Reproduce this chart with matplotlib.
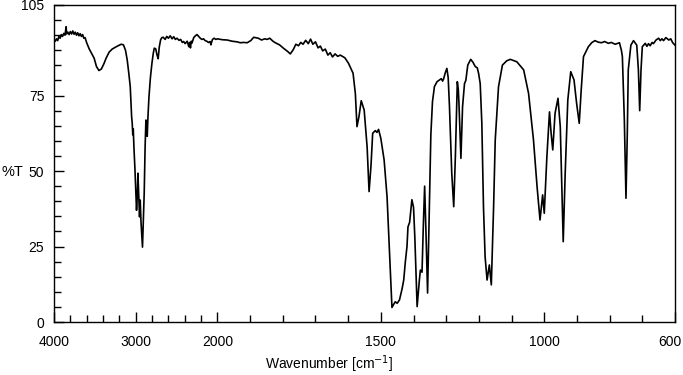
import numpy as np
import matplotlib
matplotlib.use('Agg')
import matplotlib.pyplot as plt
from matplotlib.ticker import FixedLocator, NullFormatter
from matplotlib.transforms import ScaledTranslation

plt.rcParams['font.family'] = ['Liberation Sans', 'DejaVu Sans']

# spectrum (wavenumber in cm-1, transmittance in %)
wavenumber = [
    4000, 3985, 3970, 3955, 3940, 3925, 3910, 3895, 3880, 3865, 3852, 3845, 3830, 3815,
    3800, 3785, 3770, 3755, 3740, 3725, 3710, 3695, 3680, 3665, 3650, 3635, 3620, 3600,
    3570, 3540, 3509, 3480, 3450, 3420, 3390, 3362, 3325, 3288, 3230, 3178, 3150, 3125,
    3104, 3085, 3067, 3050, 3043, 3036, 3030, 3022, 3010, 2990, 2980, 2973, 2963, 2953,
    2945, 2935, 2917, 2905, 2896, 2885, 2875, 2868, 2859, 2850, 2838, 2820, 2801, 2785,
    2773, 2755, 2740, 2725, 2712, 2695, 2680, 2663, 2640, 2620, 2600, 2577, 2555, 2535,
    2515, 2495, 2470, 2450, 2430, 2413, 2395, 2370, 2350, 2340, 2330, 2320, 2311, 2290,
    2270, 2250, 2230, 2210, 2190, 2170, 2150, 2130, 2110, 2090, 2080, 2070, 2060, 2040,
    2020, 2000, 1985, 1970, 1955, 1940, 1930, 1920, 1909, 1898, 1889, 1875, 1865, 1855,
    1848, 1840, 1830, 1823, 1810, 1797, 1785, 1777, 1768, 1760, 1752, 1745, 1738, 1730,
    1722, 1715, 1708, 1700, 1692, 1685, 1678, 1670, 1662, 1655, 1648, 1640, 1632, 1624,
    1610, 1599, 1585, 1578, 1573, 1567, 1560, 1551, 1542, 1536, 1530, 1525, 1517, 1512,
    1507, 1500, 1490, 1481, 1473, 1466, 1461, 1456, 1450, 1443, 1435, 1430, 1425, 1420,
    1417, 1412, 1405, 1400, 1396, 1389, 1382, 1379, 1374, 1370, 1366, 1362, 1357, 1352,
    1347, 1342, 1336, 1328, 1320, 1315, 1311, 1308, 1303, 1298, 1294, 1290, 1283, 1277,
    1272, 1268, 1266, 1263, 1261, 1255, 1250, 1244, 1240, 1234, 1225, 1218, 1211, 1205,
    1201, 1196, 1191, 1186, 1181, 1175, 1168, 1162, 1155, 1150, 1140, 1128, 1115, 1104,
    1084, 1063, 1048, 1033, 1022, 1013, 1005, 1000, 992, 984, 979, 974, 967, 958,
    951, 946, 942, 936, 928, 919, 909, 901, 893, 887, 880, 865, 855, 845,
    835, 825, 815, 804, 795, 783, 770, 764, 761, 755, 750, 746, 743, 735,
    727, 717, 712, 708, 704, 700, 691, 686, 681, 676, 670, 666, 658, 650,
    645, 640, 635, 628, 619, 613, 607, 600,
]
transmittance = [
    93.4, 93.0, 93.8, 93.2, 94.6, 94.0, 95.2, 94.6, 95.6, 95.0, 97.8, 95.4, 96.0, 95.2,
    96.2, 95.4, 96.4, 95.3, 96.0, 95.0, 95.8, 94.8, 95.5, 94.6, 95.2, 94.0, 94.2, 92.5,
    90.5, 89.0, 87.4, 84.6, 83.3, 83.8, 85.5, 87.4, 89.4, 90.4, 91.3, 92.0, 91.8, 90.0,
    86.8, 82.5, 78.0, 68.0, 66.0, 62.0, 64.0, 58.0, 51.0, 37.0, 42.0, 49.3, 42.0, 34.8,
    40.4, 33.0, 24.8, 35.0, 42.7, 58.0, 66.9, 65.0, 61.5, 68.0, 74.5, 81.0, 85.8, 89.0,
    90.7, 90.5, 88.5, 87.2, 91.0, 93.5, 94.2, 94.3, 93.6, 94.6, 94.0, 94.8, 93.8, 94.5,
    93.6, 94.0, 93.3, 93.6, 92.6, 92.9, 92.2, 93.0, 91.2, 92.6, 90.8, 93.0, 92.4, 94.2,
    94.8, 95.2, 94.6, 94.0, 93.6, 93.8, 93.2, 93.0, 92.6, 92.9, 91.8, 92.8, 93.6, 94.0,
    93.6, 93.8, 93.5, 93.4, 93.0, 92.8, 92.5, 92.6, 92.5, 93.2, 94.3, 94.0, 93.4, 93.8,
    93.6, 94.0, 93.0, 92.5, 91.8, 90.6, 89.6, 88.8, 90.2, 92.0, 91.5, 92.6, 92.0, 93.3,
    92.2, 93.7, 92.0, 92.8, 90.8, 91.4, 89.8, 90.4, 88.4, 89.2, 87.8, 88.8, 88.0, 88.4,
    87.5, 85.7, 82.4, 75.7, 64.7, 68.0, 73.3, 70.2, 58.0, 43.2, 52.0, 62.5, 63.4, 62.8,
    63.8, 60.8, 53.7, 41.5, 21.6, 4.8, 5.8, 6.7, 6.2, 7.3, 11.0, 13.9, 20.0, 25.0,
    31.5, 33.0, 40.5, 38.0, 28.0, 5.1, 14.0, 17.2, 16.5, 32.0, 45.0, 30.0, 9.6, 35.0,
    62.0, 73.0, 78.0, 79.6, 80.2, 80.6, 79.8, 80.5, 82.5, 84.0, 81.0, 71.3, 49.2, 38.2,
    54.7, 72.0, 79.6, 77.0, 72.4, 54.2, 71.3, 79.0, 80.0, 85.1, 87.0, 86.0, 84.6, 84.2,
    82.4, 79.0, 65.8, 38.2, 21.6, 13.9, 18.9, 12.3, 38.2, 60.3, 77.9, 85.1, 86.5, 87.0,
    86.2, 83.5, 75.7, 60.3, 44.8, 33.8, 42.1, 36.0, 54.7, 69.6, 62.5, 57.0, 69.1, 74.1,
    64.7, 43.7, 26.6, 49.2, 73.5, 82.9, 80.2, 72.4, 65.8, 76.8, 87.9, 91.2, 92.5, 93.2,
    92.7, 92.5, 92.9, 92.3, 92.6, 92.0, 92.5, 90.0, 87.9, 66.9, 41.0, 62.0, 83.5, 91.7,
    93.2, 91.7, 83.5, 70.0, 83.5, 91.2, 92.3, 91.3, 92.2, 91.5, 92.6, 92.2, 93.4, 94.0,
    93.2, 93.8, 93.2, 94.2, 93.4, 93.8, 92.5, 91.7,
]

major_x = [4000, 3000, 2000, 1500, 1000, 600]
minor_x = list(range(4000, 2000, -200)) + list(range(2000, 599, -100))
major_y = [0, 25, 50, 75, 105]
minor_y = list(range(0, 105, 5))


# 4000-2000 region is drawn at a quarter of the scale of 2000-600
def fwd(x):
    x = np.asarray(x, dtype=float)
    return np.where(x > 2000, 2000 + (x - 2000) / 4, x)


def inv(y):
    y = np.asarray(y, dtype=float)
    return np.where(y > 2000, 2000 + (y - 2000) * 4, y)


fig = plt.figure(figsize=(6.83, 3.75), dpi=100)
ax = fig.add_axes([54 / 683, 1 - 322 / 375, 621 / 683, 317 / 375])
ax.set_xscale('function', functions=(fwd, inv))
ax.plot(wavenumber, transmittance, color='black', lw=1.2)
ax.set_xlim(4000, 600)
ax.set_ylim(0, 105)

ax.xaxis.set_major_locator(FixedLocator(major_x))
ax.xaxis.set_minor_locator(FixedLocator(minor_x))
ax.xaxis.set_minor_formatter(NullFormatter())
ax.set_xticklabels([str(v) for v in major_x])
ax.yaxis.set_major_locator(FixedLocator(major_y))
ax.yaxis.set_minor_locator(FixedLocator(minor_y))
ax.set_yticklabels([str(v) for v in major_y])

ax.tick_params(which='both', direction='in', top=False, right=False, labelsize=10, width=1)
ax.tick_params(which='major', length=7)
ax.tick_params(axis='x', which='major', pad=9)
ax.tick_params(axis='y', which='major', pad=7)
ax.tick_params(which='minor', length=5)
for s in ax.spines.values():
    s.set_linewidth(1)

# last label sits a bit left so it stays inside the figure
last = ax.get_xticklabels()[-1]
last.set_transform(last.get_transform() + ScaledTranslation(-0.05, 0, fig.dpi_scale_trans))

fig.text(2 / 683, 1 - 172 / 375, '%T', fontsize=10.5, ha='left', va='center')
fig.text(329 / 683, 1 - 364 / 375, 'Wavenumber [cm$^{-1}$]', fontsize=10, ha='center', va='center')

fig.savefig('out.png', dpi=100)
